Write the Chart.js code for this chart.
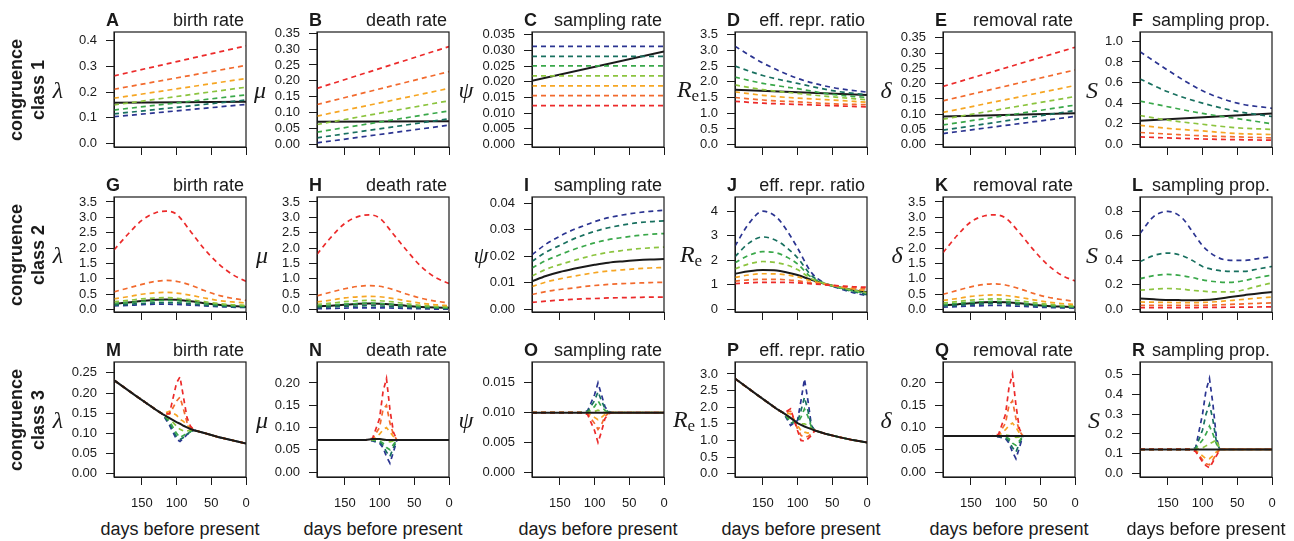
<!DOCTYPE html>
<html>
<head>
<meta charset="utf-8">
<script src="https://cdn.jsdelivr.net/npm/chart.js@4.4.1/dist/chart.umd.min.js"></script>
<style>
  body { margin: 0; background: #fff; }
  #fig { position: relative; width: 1294px; height: 541px; overflow: hidden;
         font-family: "Liberation Sans", Arial, sans-serif; color: #1a1a1a; }
  #fig canvas { position: absolute; }
  .lbl { position: absolute; white-space: nowrap; line-height: 1; }
  .letter { font-weight: bold; font-size: 18px; }
  .title { font-size: 18px; text-align: right; }
  .sym { font-family: "Liberation Serif", "DejaVu Serif", serif; font-style: italic; font-size: 24px;
         transform: translate(-50%, -50%); }
  .sym sub { font-style: normal; font-size: 17px; vertical-align: -4px; }
  .row { font-weight: bold; font-size: 18px; text-align: center; line-height: 22px;
         width: 130px; height: 44px; transform: rotate(-90deg); }
  .xlab { font-size: 18px; text-align: center; width: 200px; }
</style>
</head>
<body>
<div id="fig"></div>
<script>
const INK = '#1a1a1a';
// blue -> red
const PALETTE = ['#2b3491', '#18705f', '#3aa84a', '#8cc43f', '#f6a623', '#f26a2d', '#ec2a2a'];

// x values (days before present)
const DAYS_LIN = [190, 0];
const DAYS_CURVE = [190, 150, 100, 50, 0];
const DAYS_R2 = [190, 170, 150, 130, 115, 100, 80, 60, 40, 20, 0];
const DAYS_R3 = [190, 160, 130, 120, 110, 100, 95, 90, 85, 80, 75, 60, 40, 20, 0];
const R3_WINDOW = [110, 100, 95, 90, 85, 80];
const X_TICKS = [150, 100, 50, 0];

// ---- congruence class 1 ----
const A_LINES = [[0.104, 0.152], [0.115, 0.169], [0.13, 0.189], [0.15, 0.219], [0.176, 0.253], [0.211, 0.304], [0.263, 0.38]];
const A_BLACK = [0.158, 0.162];
const B_LINES = [[0.004, 0.06], [0.02, 0.08], [0.038, 0.105], [0.062, 0.137], [0.0886, 0.176], [0.125, 0.229], [0.176, 0.308]];
const B_BLACK = [0.0706, 0.072];
const C_LINES = [[0.0313, 0.0313], [0.0281, 0.0281], [0.0251, 0.0251], [0.0219, 0.0219], [0.0187, 0.0187], [0.0156, 0.0156], [0.0124, 0.0124]];
const C_BLACK = [0.0203, 0.0297];
const D_LINES = [
  [3.13, 2.6, 2.11, 1.82, 1.67],
  [2.5, 2.2, 1.95, 1.72, 1.58],
  [2.15, 1.95, 1.78, 1.6, 1.5],
  [1.9, 1.75, 1.63, 1.52, 1.43],
  [1.68, 1.57, 1.48, 1.42, 1.35],
  [1.5, 1.42, 1.36, 1.3, 1.27],
  [1.38, 1.32, 1.28, 1.24, 1.2]
];
const D_BLACK = [1.75, 1.58];
const E_LINES = [[0.037, 0.093], [0.048, 0.112], [0.065, 0.13], [0.084, 0.158], [0.106, 0.194], [0.144, 0.245], [0.191, 0.319]];
const E_BLACK = [0.093, 0.103];
const F_LINES = [
  [0.9, 0.72, 0.52, 0.4, 0.35],
  [0.635, 0.51, 0.4, 0.32, 0.27],
  [0.42, 0.365, 0.3, 0.25, 0.2],
  [0.28, 0.235, 0.195, 0.16, 0.145],
  [0.185, 0.155, 0.13, 0.105, 0.095],
  [0.115, 0.1, 0.082, 0.072, 0.062],
  [0.072, 0.062, 0.052, 0.045, 0.04]
];
const F_BLACK = [0.228, 0.3];

// ---- congruence class 2 ----
const G_LINES = [
  [0.12, 0.14, 0.16, 0.18, 0.18, 0.17, 0.15, 0.12, 0.1, 0.08, 0.07],
  [0.15, 0.17, 0.2, 0.22, 0.23, 0.22, 0.19, 0.15, 0.12, 0.1, 0.08],
  [0.2, 0.23, 0.27, 0.29, 0.3, 0.29, 0.25, 0.2, 0.16, 0.13, 0.11],
  [0.26, 0.3, 0.35, 0.38, 0.39, 0.37, 0.32, 0.26, 0.2, 0.16, 0.14],
  [0.35, 0.42, 0.5, 0.55, 0.56, 0.54, 0.47, 0.38, 0.3, 0.25, 0.22],
  [0.58, 0.7, 0.82, 0.92, 0.95, 0.92, 0.8, 0.62, 0.47, 0.37, 0.3],
  [1.94, 2.45, 2.9, 3.15, 3.2, 3.1, 2.55, 1.97, 1.5, 1.15, 0.92]
];
const G_BLACK = [0.19, 0.23, 0.28, 0.32, 0.33, 0.32, 0.27, 0.21, 0.16, 0.12, 0.09];
const H_LINES = [
  [0.03, 0.04, 0.05, 0.06, 0.06, 0.06, 0.05, 0.04, 0.03, 0.02, 0.02],
  [0.07, 0.09, 0.11, 0.12, 0.13, 0.12, 0.1, 0.08, 0.06, 0.05, 0.04],
  [0.12, 0.15, 0.18, 0.2, 0.21, 0.2, 0.17, 0.13, 0.1, 0.08, 0.06],
  [0.17, 0.21, 0.26, 0.29, 0.3, 0.29, 0.25, 0.19, 0.14, 0.11, 0.09],
  [0.25, 0.31, 0.38, 0.42, 0.43, 0.42, 0.36, 0.28, 0.21, 0.16, 0.13],
  [0.45, 0.57, 0.68, 0.76, 0.78, 0.76, 0.65, 0.5, 0.37, 0.28, 0.22],
  [1.8, 2.35, 2.8, 3.03, 3.08, 2.98, 2.45, 1.9, 1.4, 1.05, 0.85]
];
const H_BLACK = [0.1, 0.13, 0.16, 0.19, 0.2, 0.19, 0.16, 0.12, 0.09, 0.07, 0.06];
const I_LINES = [
  [0.0205, 0.0245, 0.0275, 0.03, 0.0315, 0.033, 0.0345, 0.0355, 0.0363, 0.0369, 0.0373],
  [0.018, 0.0215, 0.024, 0.0265, 0.028, 0.0293, 0.0307, 0.0317, 0.0325, 0.033, 0.0333],
  [0.0155, 0.0183, 0.0205, 0.0225, 0.0238, 0.025, 0.0262, 0.027, 0.0277, 0.0282, 0.0285],
  [0.0125, 0.015, 0.0168, 0.0183, 0.0194, 0.0204, 0.0214, 0.0221, 0.0227, 0.0231, 0.0234],
  [0.0085, 0.0102, 0.0114, 0.0124, 0.0131, 0.0137, 0.0144, 0.0148, 0.0152, 0.0155, 0.0157],
  [0.0055, 0.0066, 0.0074, 0.008, 0.0085, 0.0089, 0.0093, 0.0096, 0.0098, 0.01, 0.0101],
  [0.0025, 0.003, 0.0034, 0.0037, 0.0039, 0.004, 0.0042, 0.0043, 0.0044, 0.0045, 0.0045]
];
const I_BLACK = [0.0105, 0.0125, 0.014, 0.0152, 0.016, 0.0167, 0.0175, 0.018, 0.0184, 0.0187, 0.0189];
const J_LINES = [
  [2.58, 3.5, 4.0, 3.75, 3.2, 2.5, 1.5, 1.05, 0.85, 0.68, 0.55],
  [2.15, 2.7, 2.95, 2.8, 2.5, 2.1, 1.38, 1.05, 0.87, 0.72, 0.6],
  [1.9, 2.2, 2.35, 2.3, 2.12, 1.85, 1.3, 1.04, 0.88, 0.75, 0.65],
  [1.65, 1.85, 1.95, 1.9, 1.8, 1.62, 1.25, 1.04, 0.9, 0.78, 0.68],
  [1.3, 1.4, 1.45, 1.44, 1.4, 1.32, 1.15, 1.03, 0.92, 0.83, 0.76],
  [1.15, 1.2, 1.22, 1.22, 1.2, 1.16, 1.08, 1.01, 0.94, 0.88, 0.83],
  [1.05, 1.08, 1.1, 1.1, 1.1, 1.08, 1.04, 1.0, 0.96, 0.92, 0.9]
];
const J_BLACK = [1.45, 1.55, 1.6, 1.58, 1.5, 1.4, 1.2, 1.03, 0.9, 0.78, 0.7];
const K_LINES = [
  [0.08, 0.1, 0.12, 0.13, 0.14, 0.13, 0.11, 0.09, 0.07, 0.06, 0.05],
  [0.12, 0.14, 0.17, 0.19, 0.2, 0.19, 0.16, 0.13, 0.1, 0.08, 0.07],
  [0.17, 0.2, 0.24, 0.26, 0.27, 0.26, 0.22, 0.18, 0.14, 0.11, 0.09],
  [0.22, 0.26, 0.31, 0.34, 0.35, 0.33, 0.29, 0.23, 0.18, 0.14, 0.12],
  [0.3, 0.36, 0.43, 0.47, 0.48, 0.46, 0.4, 0.32, 0.25, 0.2, 0.17],
  [0.5, 0.62, 0.74, 0.82, 0.84, 0.8, 0.68, 0.53, 0.41, 0.33, 0.27],
  [1.85, 2.4, 2.85, 3.05, 3.08, 2.98, 2.5, 1.95, 1.47, 1.13, 0.93]
];
const K_BLACK = [0.14, 0.17, 0.21, 0.24, 0.25, 0.24, 0.21, 0.16, 0.12, 0.1, 0.08];
const L_LINES = [
  [0.62, 0.76, 0.8, 0.75, 0.64, 0.52, 0.43, 0.4, 0.4, 0.415, 0.43],
  [0.39, 0.44, 0.46, 0.44, 0.4, 0.35, 0.32, 0.31, 0.31, 0.33, 0.35],
  [0.25, 0.275, 0.285, 0.275, 0.26, 0.24, 0.225, 0.22, 0.235, 0.26, 0.28],
  [0.156, 0.165, 0.17, 0.165, 0.155, 0.148, 0.142, 0.142, 0.16, 0.19, 0.216],
  [0.06, 0.058, 0.056, 0.055, 0.055, 0.056, 0.062, 0.072, 0.082, 0.092, 0.1],
  [0.033, 0.032, 0.032, 0.032, 0.032, 0.033, 0.036, 0.04, 0.045, 0.049, 0.052],
  [0.014, 0.014, 0.014, 0.014, 0.014, 0.015, 0.016, 0.017, 0.018, 0.019, 0.02]
];
const L_BLACK = [0.088, 0.082, 0.077, 0.075, 0.074, 0.076, 0.085, 0.1, 0.115, 0.13, 0.142];

// ---- congruence class 3: black curve, colored lines leave it only inside R3_WINDOW ----
const M_BASE = [0.232, 0.195, 0.159, 0.148, 0.138, 0.128, 0.124, 0.119, 0.115, 0.111, 0.108, 0.101, 0.091, 0.083, 0.075];
const M_WIN = [
  [0.12, 0.085, 0.08, 0.088, 0.097, 0.103],
  [0.125, 0.092, 0.085, 0.09, 0.098, 0.104],
  [0.13, 0.1, 0.09, 0.095, 0.1, 0.105],
  [0.136, 0.118, 0.11, 0.106, 0.106, 0.108],
  [0.155, 0.145, 0.135, 0.13, 0.12, 0.114],
  [0.148, 0.18, 0.19, 0.16, 0.128, 0.116],
  [0.15, 0.225, 0.24, 0.19, 0.14, 0.118]
];
const N_BASE = [0.072, 0.072, 0.072, 0.072, 0.074, 0.074, 0.073, 0.072, 0.072, 0.072, 0.072, 0.072, 0.072, 0.072, 0.072];
const N_WIN = [
  [0.07, 0.065, 0.055, 0.035, 0.02, 0.045],
  [0.071, 0.068, 0.06, 0.045, 0.035, 0.055],
  [0.072, 0.07, 0.065, 0.055, 0.05, 0.062],
  [0.073, 0.074, 0.072, 0.07, 0.068, 0.07],
  [0.074, 0.085, 0.095, 0.1, 0.09, 0.08],
  [0.075, 0.1, 0.14, 0.15, 0.11, 0.085],
  [0.076, 0.12, 0.18, 0.21, 0.14, 0.09]
];
const O_BASE = [0.01, 0.01, 0.01, 0.01, 0.01, 0.01, 0.01, 0.01, 0.01, 0.01, 0.01, 0.01, 0.01, 0.01, 0.01];
const O_WIN = [
  [0.0103, 0.013, 0.015, 0.013, 0.011, 0.0102],
  [0.0102, 0.012, 0.0135, 0.012, 0.0107, 0.0101],
  [0.0101, 0.011, 0.012, 0.011, 0.0104, 0.01],
  [0.01, 0.0102, 0.0104, 0.0102, 0.01, 0.01],
  [0.0099, 0.0092, 0.0088, 0.0092, 0.0097, 0.01],
  [0.0098, 0.0082, 0.0072, 0.008, 0.0094, 0.0099],
  [0.0097, 0.007, 0.005, 0.0068, 0.009, 0.0098]
];
const P_BASE = [2.86, 2.4, 1.95, 1.82, 1.68, 1.52, 1.47, 1.42, 1.38, 1.34, 1.3, 1.2, 1.1, 1.01, 0.94];
const P_WIN = [
  [1.45, 1.6, 2.2, 2.85, 2.2, 1.45],
  [1.52, 1.55, 1.9, 2.3, 1.9, 1.42],
  [1.58, 1.52, 1.7, 1.95, 1.72, 1.4],
  [1.66, 1.52, 1.5, 1.5, 1.45, 1.36],
  [1.8, 1.45, 1.3, 1.25, 1.22, 1.25],
  [1.88, 1.35, 1.15, 1.1, 1.12, 1.2],
  [1.95, 1.3, 1.0, 0.98, 1.05, 1.15]
];
const Q_BASE = [0.081, 0.081, 0.081, 0.081, 0.081, 0.081, 0.081, 0.081, 0.081, 0.081, 0.081, 0.081, 0.081, 0.081, 0.081];
const Q_WIN = [
  [0.079, 0.075, 0.065, 0.045, 0.03, 0.055],
  [0.08, 0.077, 0.07, 0.055, 0.045, 0.065],
  [0.081, 0.079, 0.075, 0.065, 0.06, 0.07],
  [0.082, 0.083, 0.082, 0.08, 0.078, 0.079],
  [0.083, 0.095, 0.105, 0.11, 0.1, 0.088],
  [0.084, 0.11, 0.15, 0.16, 0.12, 0.092],
  [0.085, 0.13, 0.19, 0.22, 0.15, 0.097]
];
const R_BASE = [0.122, 0.122, 0.122, 0.122, 0.122, 0.122, 0.122, 0.122, 0.122, 0.122, 0.122, 0.122, 0.122, 0.122, 0.122];
const R_WIN = [
  [0.13, 0.3, 0.42, 0.48, 0.35, 0.18],
  [0.128, 0.22, 0.3, 0.35, 0.27, 0.16],
  [0.125, 0.17, 0.2, 0.24, 0.2, 0.15],
  [0.122, 0.13, 0.14, 0.15, 0.16, 0.17],
  [0.118, 0.09, 0.075, 0.075, 0.09, 0.11],
  [0.115, 0.07, 0.05, 0.045, 0.07, 0.1],
  [0.112, 0.06, 0.04, 0.03, 0.06, 0.09]
];

// layout of the plot boxes
const COL_LEFT = [114, 317, 532, 735, 943, 1140];
const ROW_TOP = [32, 197, 362];
const BOX_W = 132, BOX_H = 115;

const pts = (days, vals) => days.map((d, i) => ({ x: d, y: vals[i] }));

function dashed(data, color, smooth) {
  return { data, borderColor: color, borderWidth: 1.7, borderDash: [5, 4],
           tension: smooth ? 0.4 : 0, cubicInterpolationMode: smooth ? 'monotone' : 'default' };
}
function solid(data, smooth) {
  return { data, borderColor: INK, borderWidth: 2,
           tension: smooth ? 0.4 : 0, cubicInterpolationMode: smooth ? 'monotone' : 'default' };
}
// colored lines red first, blue last; black on top
function fanSets(days, lines, blackDays, black, smooth) {
  const sets = [];
  for (let i = lines.length - 1; i >= 0; i--) sets.push(dashed(pts(days, lines[i]), PALETTE[i], smooth));
  sets.push(solid(pts(blackDays, black), smooth));
  return sets;
}
// class 3: black first, colored lines copy the black curve outside the window
function spikeSets(base, win) {
  const sets = [solid(pts(DAYS_R3, base), false)];
  for (let i = win.length - 1; i >= 0; i--) {
    const vals = DAYS_R3.map((d, k) => {
      const w = R3_WINDOW.indexOf(d);
      return w >= 0 ? win[i][w] : base[k];
    });
    sets.push(dashed(pts(DAYS_R3, vals), PALETTE[i], false));
  }
  return sets;
}

const SYM = {
  lambda: '\u03bb', mu: '\u03bc', psi: '\u03c8', re: 'R<sub>e</sub>', delta: '\u03b4', s: 'S'
};

const PANELS = [
  { id: 'A', title: 'birth rate', sym: 'lambda', sx: 58, r: 0, c: 0, y: [-0.014, 0.434, 0.1, 1], sets: fanSets(DAYS_LIN, A_LINES, DAYS_LIN, A_BLACK, false) },
  { id: 'B', title: 'death rate', sym: 'mu', sx: 260, r: 0, c: 1, y: [-0.009, 0.354, 0.05, 2], sets: fanSets(DAYS_LIN, B_LINES, DAYS_LIN, B_BLACK, false) },
  { id: 'C', title: 'sampling rate', sym: 'psi', sx: 466, r: 0, c: 2, y: [-0.0008, 0.0359, 0.005, 3], sets: fanSets(DAYS_LIN, C_LINES, DAYS_LIN, C_BLACK, false) },
  { id: 'D', title: 'eff. repr. ratio', sym: 're', sx: 688, r: 0, c: 3, y: [-0.075, 3.585, 0.5, 1], sets: fanSets(DAYS_CURVE, D_LINES, DAYS_LIN, D_BLACK, true) },
  { id: 'E', title: 'removal rate', sym: 'delta', sx: 886, r: 0, c: 4, y: [-0.007, 0.369, 0.05, 2], sets: fanSets(DAYS_LIN, E_LINES, DAYS_LIN, E_BLACK, false) },
  { id: 'F', title: 'sampling prop.', sym: 's', sx: 1092, r: 0, c: 5, y: [-0.026, 1.091, 0.2, 1], sets: fanSets(DAYS_CURVE, F_LINES, DAYS_LIN, F_BLACK, true) },

  { id: 'G', title: 'birth rate', sym: 'lambda', sx: 58, r: 1, c: 0, y: [-0.076, 3.66, 0.5, 1], sets: fanSets(DAYS_R2, G_LINES, DAYS_R2, G_BLACK, true) },
  { id: 'H', title: 'death rate', sym: 'mu', sx: 262, r: 1, c: 1, y: [-0.076, 3.66, 0.5, 1], sets: fanSets(DAYS_R2, H_LINES, DAYS_R2, H_BLACK, true) },
  { id: 'I', title: 'sampling rate', sym: 'psi', sx: 481, r: 1, c: 2, y: [-0.0011, 0.0423, 0.01, 2], sets: fanSets(DAYS_R2, I_LINES, DAYS_R2, I_BLACK, true) },
  { id: 'J', title: 'eff. repr. ratio', sym: 're', sx: 691, r: 1, c: 3, y: [-0.11, 4.58, 1, 0], sets: fanSets(DAYS_R2, J_LINES, DAYS_R2, J_BLACK, true) },
  { id: 'K', title: 'removal rate', sym: 'delta', sx: 897, r: 1, c: 4, y: [-0.076, 3.66, 0.5, 1], sets: fanSets(DAYS_R2, K_LINES, DAYS_R2, K_BLACK, true) },
  { id: 'L', title: 'sampling prop.', sym: 's', sx: 1092, r: 1, c: 5, y: [-0.022, 0.918, 0.2, 1], sets: fanSets(DAYS_R2, L_LINES, DAYS_R2, L_BLACK, true) },

  { id: 'M', title: 'birth rate', sym: 'lambda', sx: 58, r: 2, c: 0, y: [-0.008, 0.277, 0.05, 2], sets: spikeSets(M_BASE, M_WIN) },
  { id: 'N', title: 'death rate', sym: 'mu', sx: 262, r: 2, c: 1, y: [-0.011, 0.247, 0.05, 2], sets: spikeSets(N_BASE, N_WIN) },
  { id: 'O', title: 'sampling rate', sym: 'psi', sx: 466, r: 2, c: 2, y: [-0.0008, 0.0185, 0.005, 3], sets: spikeSets(O_BASE, O_WIN) },
  { id: 'P', title: 'eff. repr. ratio', sym: 're', sx: 684, r: 2, c: 3, y: [-0.1, 3.36, 0.5, 1], sets: spikeSets(P_BASE, P_WIN) },
  { id: 'Q', title: 'removal rate', sym: 'delta', sx: 886, r: 2, c: 4, y: [-0.011, 0.247, 0.05, 2], sets: spikeSets(Q_BASE, Q_WIN) },
  { id: 'R', title: 'sampling prop.', sym: 's', sx: 1094, r: 2, c: 5, y: [-0.017, 0.563, 0.1, 1], sets: spikeSets(R_BASE, R_WIN) }
];

Chart.defaults.font.family = '"Liberation Sans", Arial, sans-serif';
Chart.defaults.font.size = 13;
Chart.defaults.color = INK;

const boxPlugin = {
  id: 'box',
  afterDraw(chart) {
    const { ctx, chartArea: a } = chart;
    ctx.save();
    ctx.strokeStyle = INK;
    ctx.lineWidth = 1.2;
    ctx.strokeRect(a.left, a.top, a.right - a.left, a.bottom - a.top);
    ctx.restore();
  }
};

const fig = document.getElementById('fig');
function addLabel(cls, html, left, top, extra) {
  const d = document.createElement('div');
  d.className = 'lbl ' + cls;
  d.innerHTML = html;
  d.style.left = left + 'px';
  d.style.top = top + 'px';
  if (extra) Object.assign(d.style, extra);
  fig.appendChild(d);
  return d;
}
const zeroPad = s => { s.paddingTop = 0; s.paddingBottom = 0; s.paddingLeft = 0; s.paddingRight = 0; };

const PAD_TOP = 8, AXIS_W = 60, AXIS_H = 40, PAD_RIGHT = 6;

PANELS.forEach(p => {
  const left = COL_LEFT[p.c], top = ROW_TOP[p.r];
  const cv = document.createElement('canvas');
  cv.width = BOX_W + AXIS_W + PAD_RIGHT;
  cv.height = BOX_H + PAD_TOP + AXIS_H;
  cv.style.left = (left - AXIS_W) + 'px';
  cv.style.top = (top - PAD_TOP) + 'px';
  fig.appendChild(cv);

  const [ymin, ymax, ystep, ydec] = p.y;
  const showX = p.r === 2;
  new Chart(cv, {
    type: 'line',
    data: { datasets: p.sets },
    options: {
      responsive: false,
      animation: false,
      events: [],
      layout: { padding: { left: 0, top: PAD_TOP, right: PAD_RIGHT, bottom: 0 } },
      plugins: { legend: { display: false }, tooltip: { enabled: false } },
      elements: { point: { radius: 0 } },
      scales: {
        x: {
          type: 'linear', reverse: true, min: 0, max: 190,
          afterFit: s => { s.height = AXIS_H; zeroPad(s); },
          afterBuildTicks: s => { s.ticks = X_TICKS.map(v => ({ value: v })); },
          grid: { drawOnChartArea: false, tickLength: 8, color: INK, lineWidth: 1 },
          border: { color: INK, width: 1 },
          ticks: { display: showX, autoSkip: false, maxRotation: 0, padding: 11, color: INK,
                   callback: v => String(v) }
        },
        y: {
          min: ymin, max: ymax,
          afterFit: s => { s.width = AXIS_W; zeroPad(s); },
          grid: { drawOnChartArea: false, tickLength: 8, color: INK, lineWidth: 1 },
          border: { color: INK, width: 1 },
          ticks: { stepSize: ystep, includeBounds: false, autoSkip: false, padding: 9, color: INK,
                   callback: v => Number(v).toFixed(ydec) }
        }
      }
    },
    plugins: [boxPlugin]
  });

  addLabel('letter', p.id, left - 8, top - 21);
  addLabel('title', p.title, left + BOX_W - 202, top - 21, { width: '200px' });
  addLabel('sym', SYM[p.sym], p.sx, top + BOX_H / 2);
  if (showX) addLabel('xlab', 'days before present', left + BOX_W / 2 - 100, 520);
});

ROW_TOP.forEach((t, i) => {
  addLabel('row', 'congruence<br>class ' + (i + 1), 27 - 65, t + BOX_H / 2 - 22);
});
</script>
</body>
</html>
